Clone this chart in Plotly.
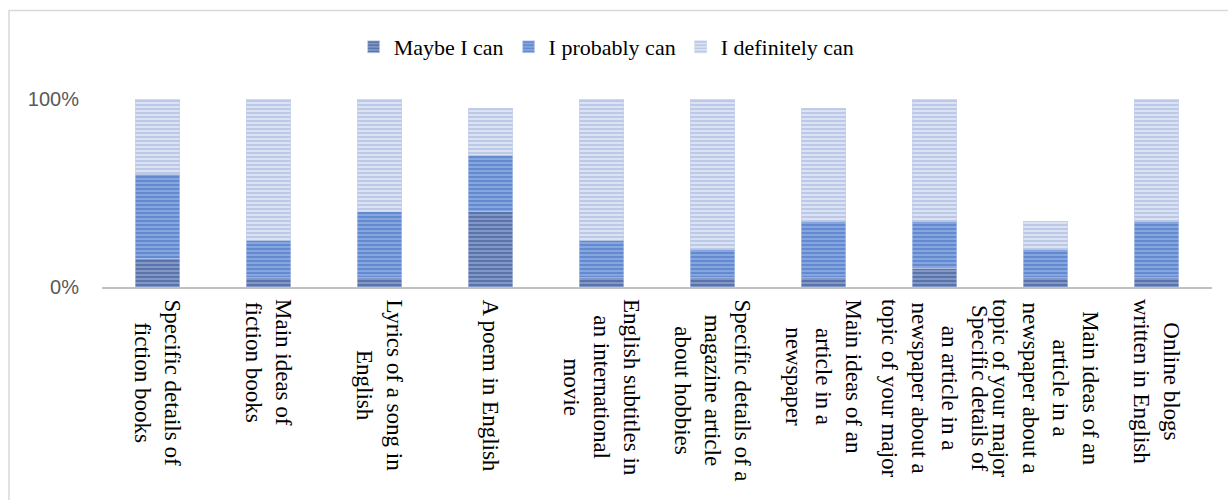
import plotly.graph_objects as go

# Survey items (category axis)
categories = [
    "Specific details of fiction books",
    "Main ideas of fiction books",
    "Lyrics of a song in English",
    "A poem in English",
    "English subtitles in an international movie",
    "Specific details of a magazine article about hobbies",
    "Main ideas of an article in a newspaper",
    "Specific details of an article in a newspaper about a topic of your major",
    "Main ideas of an article in a newspaper about a topic of your major",
    "Online blogs written in English",
]

# Wrapped versions of the category names for the rotated labels
category_labels = [
    "Specific details of<br>fiction books",
    "Main ideas of<br>fiction books",
    "Lyrics of a song in<br>English",
    "A poem in English",
    "English subtitles in<br>an international<br>movie",
    "Specific details of a<br>magazine article<br>about hobbies",
    "Main ideas of an<br>article in a<br>newspaper",
    "Specific details of<br>an article in a<br>newspaper about a<br>topic of your major",
    "Main ideas of an<br>article in a<br>newspaper about a<br>topic of your major",
    "Online blogs<br>written in English",
]

# Share of respondents per answer (fractions of 1)
maybe_i_can = [0.15, 0.05, 0.05, 0.40, 0.05, 0.05, 0.05, 0.10, 0.05, 0.05]
i_probably_can = [0.45, 0.20, 0.35, 0.30, 0.20, 0.15, 0.30, 0.25, 0.15, 0.30]
i_definitely_can = [0.40, 0.75, 0.60, 0.25, 0.75, 0.80, 0.60, 0.65, 0.15, 0.65]

series = [
    ("Maybe I can", maybe_i_can, "#2f4f8f", "#8397c6"),
    ("I probably can", i_probably_can, "#3f6cc2", "#86a6e0"),
    ("I definitely can", i_definitely_can, "#9cafdc", "#dbe2f3"),
]

fig = go.Figure()
for name, values, fg, bg in series:
    fig.add_trace(go.Bar(
        name=name,
        x=categories,
        y=values,
        marker=dict(
            color=bg,
            line=dict(width=0.6, color="rgba(200,210,235,0.9)"),
            pattern=dict(shape="-", fgcolor=fg, bgcolor=bg, size=4, solidity=0.5),
        ),
    ))

# Rotated, centre-aligned category labels under each bar
for cat, label in zip(categories, category_labels):
    fig.add_annotation(
        x=cat,
        xref="x",
        y=0,
        yref="y",
        text=label,
        textangle=90,
        align="center",
        xanchor="center",
        yanchor="top",
        yshift=-10,
        showarrow=False,
        font=dict(family="Liberation Serif", size=23, color="#000000"),
    )

fig.update_layout(
    barmode="stack",
    bargap=0.6,
    width=1228,
    height=500,
    margin=dict(l=102, r=16, t=99, b=213),
    paper_bgcolor="white",
    plot_bgcolor="white",
    font=dict(family="Liberation Serif", color="#000000"),
    legend=dict(
        orientation="h",
        traceorder="normal",
        xref="container",
        x=0.494,
        xanchor="center",
        yref="container",
        y=0.906,
        yanchor="middle",
        font=dict(family="Liberation Serif", size=22, color="#000000"),
        itemwidth=30,
    ),
    xaxis=dict(
        showticklabels=False,
        showline=True,
        linecolor="#c0c0c0",
        linewidth=2,
        ticks="",
        showgrid=False,
    ),
    yaxis=dict(
        range=[0, 1],
        tickvals=[0, 1],
        tickformat=".0%",
        tickfont=dict(family="Liberation Sans", size=20, color="#595959"),
        showgrid=True,
        gridcolor="#d9d9d9",
        gridwidth=1,
        zeroline=False,
        showline=False,
        ticklabelstandoff=22,
    ),
    shapes=[
        dict(
            type="rect",
            xref="paper",
            yref="paper",
            x0=-0.0838,
            x1=1.05,
            y0=-1.3,
            y1=1.4707,
            line=dict(color="#d9d9d9", width=1.5),
            fillcolor="rgba(0,0,0,0)",
            layer="below",
        )
    ],
)

fig.write_html("out.html")
